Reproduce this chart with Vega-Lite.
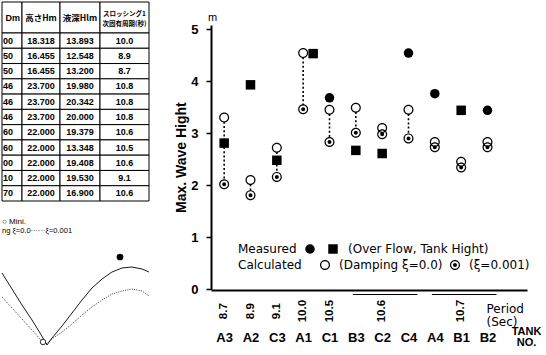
{
"$schema": "https://vega.github.io/schema/vega-lite/v6.json",
"background": "white",
"padding": 0,
"spacing": 23,
"config": {"view": {"stroke": null}, "axis": {"labelColor": "black", "titleColor": "black", "domainColor": "black", "tickColor": "black"}, "legend": {"labelColor": "black", "titleColor": "black"}},
"datasets": {
"table": [
{"part":"head","col":"c1","row":"h","text":"Dm"},
{"part":"head","col":"c2","row":"h","text":"高さHm"},
{"part":"head","col":"c3","row":"h","text":"液深Hlm"},
{"part":"head","col":"c4","row":"h","text":"スロッシング1\n次固有周期(秒)"},
{"part":"body","col":"c1","row":"r01","text":"00"},{"part":"body","col":"c2","row":"r01","text":"18.318"},{"part":"body","col":"c3","row":"r01","text":"13.893"},{"part":"body","col":"c4","row":"r01","text":"10.0"},
{"part":"body","col":"c1","row":"r02","text":"50"},{"part":"body","col":"c2","row":"r02","text":"16.455"},{"part":"body","col":"c3","row":"r02","text":"12.548"},{"part":"body","col":"c4","row":"r02","text":"8.9"},
{"part":"body","col":"c1","row":"r03","text":"50"},{"part":"body","col":"c2","row":"r03","text":"16.455"},{"part":"body","col":"c3","row":"r03","text":"13.200"},{"part":"body","col":"c4","row":"r03","text":"8.7"},
{"part":"body","col":"c1","row":"r04","text":"46"},{"part":"body","col":"c2","row":"r04","text":"23.700"},{"part":"body","col":"c3","row":"r04","text":"19.980"},{"part":"body","col":"c4","row":"r04","text":"10.8"},
{"part":"body","col":"c1","row":"r05","text":"46"},{"part":"body","col":"c2","row":"r05","text":"23.700"},{"part":"body","col":"c3","row":"r05","text":"20.342"},{"part":"body","col":"c4","row":"r05","text":"10.8"},
{"part":"body","col":"c1","row":"r06","text":"46"},{"part":"body","col":"c2","row":"r06","text":"23.700"},{"part":"body","col":"c3","row":"r06","text":"20.000"},{"part":"body","col":"c4","row":"r06","text":"10.8"},
{"part":"body","col":"c1","row":"r07","text":"60"},{"part":"body","col":"c2","row":"r07","text":"22.000"},{"part":"body","col":"c3","row":"r07","text":"19.379"},{"part":"body","col":"c4","row":"r07","text":"10.6"},
{"part":"body","col":"c1","row":"r08","text":"60"},{"part":"body","col":"c2","row":"r08","text":"22.000"},{"part":"body","col":"c3","row":"r08","text":"13.348"},{"part":"body","col":"c4","row":"r08","text":"10.5"},
{"part":"body","col":"c1","row":"r09","text":"00"},{"part":"body","col":"c2","row":"r09","text":"22.000"},{"part":"body","col":"c3","row":"r09","text":"19.408"},{"part":"body","col":"c4","row":"r09","text":"10.6"},
{"part":"body","col":"c1","row":"r10","text":"10"},{"part":"body","col":"c2","row":"r10","text":"22.000"},{"part":"body","col":"c3","row":"r10","text":"19.530"},{"part":"body","col":"c4","row":"r10","text":"9.1"},
{"part":"body","col":"c1","row":"r11","text":"70"},{"part":"body","col":"c2","row":"r11","text":"22.000"},{"part":"body","col":"c3","row":"r11","text":"16.900"},{"part":"body","col":"c4","row":"r11","text":"10.6"}
],
"curves": [
{"damping":"0.0","t":0,"a":7.2},{"damping":"0.0","t":1,"a":5.6},{"damping":"0.0","t":2,"a":4.0},{"damping":"0.0","t":3,"a":2.5},{"damping":"0.0","t":3.8,"a":1.2},{"damping":"0.0","t":4.5,"a":0.0},{"damping":"0.0","t":5,"a":0.7},{"damping":"0.0","t":6,"a":1.9},{"damping":"0.0","t":7,"a":3.2},{"damping":"0.0","t":8,"a":4.5},{"damping":"0.0","t":9,"a":5.7},{"damping":"0.0","t":10,"a":6.6},{"damping":"0.0","t":11,"a":7.3},{"damping":"0.0","t":12,"a":7.7},{"damping":"0.0","t":13,"a":7.8},{"damping":"0.0","t":14,"a":7.6},{"damping":"0.0","t":14.7,"a":7.3},
{"damping":"0.001","t":0,"a":4.8},{"damping":"0.001","t":1,"a":3.7},{"damping":"0.001","t":2,"a":2.6},{"damping":"0.001","t":3,"a":1.5},{"damping":"0.001","t":3.8,"a":0.6},{"damping":"0.001","t":4.4,"a":0.1},{"damping":"0.001","t":5,"a":0.6},{"damping":"0.001","t":6,"a":1.3},{"damping":"0.001","t":7,"a":2.1},{"damping":"0.001","t":8,"a":3.0},{"damping":"0.001","t":9,"a":3.8},{"damping":"0.001","t":10,"a":4.5},{"damping":"0.001","t":11,"a":5.1},{"damping":"0.001","t":12,"a":5.4},{"damping":"0.001","t":13,"a":5.6},{"damping":"0.001","t":14,"a":5.4},{"damping":"0.001","t":14.7,"a":4.9}
],
"curvemarks": [{"kind":"max","t":11.8,"a":8.8},{"kind":"min","t":4.1,"a":0.3}],
"notes": [{"line":1,"label":"○ Mini."},{"line":2,"label":"ng  ξ=0.0······ξ=0.001"}],
"tanks": [
{"tank":"A3","measured":2.81,"meas_type":"overflow","damping0":3.30,"damping001":2.02},
{"tank":"A2","measured":3.93,"meas_type":"overflow","damping0":2.10,"damping001":1.81},
{"tank":"C3","measured":2.48,"meas_type":"overflow","damping0":2.72,"damping001":2.16},
{"tank":"A1","measured":4.53,"meas_type":"overflow","damping0":4.54,"damping001":3.46},
{"tank":"C1","measured":3.68,"meas_type":"measured","damping0":3.45,"damping001":2.83},
{"tank":"B3","measured":2.67,"meas_type":"overflow","damping0":3.49,"damping001":3.01},
{"tank":"C2","measured":2.61,"meas_type":"overflow","damping0":3.10,"damping001":2.98},
{"tank":"C4","measured":4.54,"meas_type":"measured","damping0":3.45,"damping001":2.90},
{"tank":"A4","measured":3.76,"meas_type":"measured","damping0":2.83,"damping001":2.73},
{"tank":"B1","measured":3.44,"meas_type":"overflow","damping0":2.45,"damping001":2.34},
{"tank":"B2","measured":3.44,"meas_type":"measured","damping0":2.83,"damping001":2.73}
],
"periods": [
{"tank":"A3","period":"8.7"},{"tank":"A2","period":"8.9"},{"tank":"C3","period":"9.1"},{"tank":"A1","period":"10.0"},{"tank":"C1","period":"10.5"},
{"tank":"C2","period":"10.6","start":"B3","end":"C4"},{"tank":"B1","period":"10.7","start":"A4","end":"B2"}
]
},
"hconcat": [
{
"width": 147, "height": 355,
"data": {"name": "table"},
"resolve": {"scale": {"x": "independent", "y": "independent"}},
"layer": [
{"transform":[{"filter":"datum.part == 'head' && datum.col == 'c1'"}],
 "encoding":{"x":{"field":"col","type":"nominal","axis":null,"scale":{"type":"band","domain":["c1"],"range":[0,20],"paddingInner":0,"paddingOuter":0}},
  "y":{"field":"row","type":"nominal","axis":null,"scale":{"type":"band","domain":["h"],"range":[2,33],"paddingInner":0,"paddingOuter":0}}},
 "layer":[{"mark":{"type":"rect","fill":"white","stroke":"black","strokeWidth":1}},
  {"mark":{"type":"text","align":"right","dx":8,"baseline":"middle","font":"Liberation Sans","fontSize":9,"fontWeight":"bold","color":"black"},"encoding":{"text":{"field":"text"}}}]},
{"transform":[{"filter":"datum.part == 'head' && datum.col == 'c2'"}],
 "encoding":{"x":{"field":"col","type":"nominal","axis":null,"scale":{"type":"band","domain":["c2"],"range":[20,58],"paddingInner":0,"paddingOuter":0}},
  "y":{"field":"row","type":"nominal","axis":null,"scale":{"type":"band","domain":["h"],"range":[2,33],"paddingInner":0,"paddingOuter":0}}},
 "layer":[{"mark":{"type":"rect","fill":"white","stroke":"black","strokeWidth":1}},
  {"mark":{"type":"text","align":"center","baseline":"middle","font":"Noto Sans CJK JP","fontSize":8.5,"fontWeight":"bold","color":"black"},"encoding":{"text":{"field":"text"}}}]},
{"transform":[{"filter":"datum.part == 'head' && datum.col == 'c3'"}],
 "encoding":{"x":{"field":"col","type":"nominal","axis":null,"scale":{"type":"band","domain":["c3"],"range":[58,98],"paddingInner":0,"paddingOuter":0}},
  "y":{"field":"row","type":"nominal","axis":null,"scale":{"type":"band","domain":["h"],"range":[2,33],"paddingInner":0,"paddingOuter":0}}},
 "layer":[{"mark":{"type":"rect","fill":"white","stroke":"black","strokeWidth":1}},
  {"mark":{"type":"text","align":"center","baseline":"middle","font":"Noto Sans CJK JP","fontSize":8.5,"fontWeight":"bold","color":"black"},"encoding":{"text":{"field":"text"}}}]},
{"transform":[{"filter":"datum.part == 'head' && datum.col == 'c4'"}],
 "encoding":{"x":{"field":"col","type":"nominal","axis":null,"scale":{"type":"band","domain":["c4"],"range":[98,147],"paddingInner":0,"paddingOuter":0}},
  "y":{"field":"row","type":"nominal","axis":null,"scale":{"type":"band","domain":["h"],"range":[2,33],"paddingInner":0,"paddingOuter":0}}},
 "layer":[{"mark":{"type":"rect","fill":"white","stroke":"black","strokeWidth":1}},
  {"mark":{"type":"text","align":"center","baseline":"middle","lineBreak":"\n","lineHeight":10,"dy":-4,"font":"Noto Sans CJK JP","fontSize":6.5,"fontWeight":"bold","color":"black"},"encoding":{"text":{"field":"text"}}}]},
{"transform":[{"filter":"datum.part == 'body' && datum.col == 'c1'"}],
 "encoding":{"x":{"field":"col","type":"nominal","axis":null,"scale":{"type":"band","domain":["c1"],"range":[0,20],"paddingInner":0,"paddingOuter":0}},
  "y":{"field":"row","type":"nominal","axis":null,"scale":{"type":"band","range":[33,201],"paddingInner":0,"paddingOuter":0}}},
 "layer":[{"mark":{"type":"rect","fill":"white","stroke":"black","strokeWidth":1}},
  {"mark":{"type":"text","align":"right","dx":1,"baseline":"middle","font":"Liberation Sans","fontSize":9,"fontWeight":"bold","color":"black"},"encoding":{"text":{"field":"text"}}}]},
{"transform":[{"filter":"datum.part == 'body' && datum.col == 'c2'"}],
 "encoding":{"x":{"field":"col","type":"nominal","axis":null,"scale":{"type":"band","domain":["c2"],"range":[20,58],"paddingInner":0,"paddingOuter":0}},
  "y":{"field":"row","type":"nominal","axis":null,"scale":{"type":"band","range":[33,201],"paddingInner":0,"paddingOuter":0}}},
 "layer":[{"mark":{"type":"rect","fill":"white","stroke":"black","strokeWidth":1}},
  {"mark":{"type":"text","align":"center","baseline":"middle","font":"Liberation Sans","fontSize":9,"fontWeight":"bold","color":"black"},"encoding":{"text":{"field":"text"}}}]},
{"transform":[{"filter":"datum.part == 'body' && datum.col == 'c3'"}],
 "encoding":{"x":{"field":"col","type":"nominal","axis":null,"scale":{"type":"band","domain":["c3"],"range":[58,98],"paddingInner":0,"paddingOuter":0}},
  "y":{"field":"row","type":"nominal","axis":null,"scale":{"type":"band","range":[33,201],"paddingInner":0,"paddingOuter":0}}},
 "layer":[{"mark":{"type":"rect","fill":"white","stroke":"black","strokeWidth":1}},
  {"mark":{"type":"text","align":"center","baseline":"middle","font":"Liberation Sans","fontSize":9,"fontWeight":"bold","color":"black"},"encoding":{"text":{"field":"text"}}}]},
{"transform":[{"filter":"datum.part == 'body' && datum.col == 'c4'"}],
 "encoding":{"x":{"field":"col","type":"nominal","axis":null,"scale":{"type":"band","domain":["c4"],"range":[98,147],"paddingInner":0,"paddingOuter":0}},
  "y":{"field":"row","type":"nominal","axis":null,"scale":{"type":"band","range":[33,201],"paddingInner":0,"paddingOuter":0}}},
 "layer":[{"mark":{"type":"rect","fill":"white","stroke":"black","strokeWidth":1}},
  {"mark":{"type":"text","align":"center","baseline":"middle","font":"Liberation Sans","fontSize":9,"fontWeight":"bold","color":"black"},"encoding":{"text":{"field":"text"}}}]},
{"data":{"name":"curves"},
 "layer":[
  {"transform":[{"filter":"datum.damping == '0.0'"}],"mark":{"type":"line","color":"black","strokeWidth":0.9},
   "encoding":{"x":{"field":"t","type":"quantitative","axis":null,"scale":{"domain":[0,14.7],"range":[0,147],"nice":false,"zero":false}},"y":{"field":"a","type":"quantitative","axis":null,"scale":{"domain":[0,10],"range":[345,245],"nice":false,"zero":false}},"order":{"field":"t"}}},
  {"transform":[{"filter":"datum.damping == '0.001'"}],"mark":{"type":"line","color":"black","strokeWidth":0.8,"strokeDash":[1,1.3]},
   "encoding":{"x":{"field":"t","type":"quantitative","axis":null,"scale":{"domain":[0,14.7],"range":[0,147],"nice":false,"zero":false}},"y":{"field":"a","type":"quantitative","axis":null,"scale":{"domain":[0,10],"range":[345,245],"nice":false,"zero":false}},"order":{"field":"t"}}},
  {"data":{"name":"curvemarks"},"transform":[{"filter":"datum.kind == 'max'"}],"mark":{"type":"point","shape":"circle","filled":true,"color":"black","size":45,"opacity":1},
   "encoding":{"x":{"field":"t","type":"quantitative","axis":null,"scale":{"domain":[0,14.7],"range":[0,147],"nice":false,"zero":false}},"y":{"field":"a","type":"quantitative","axis":null,"scale":{"domain":[0,10],"range":[345,245],"nice":false,"zero":false}}}},
  {"data":{"name":"curvemarks"},"transform":[{"filter":"datum.kind == 'min'"}],"mark":{"type":"point","shape":"circle","filled":false,"fill":"white","stroke":"black","strokeWidth":0.8,"size":30,"opacity":1},
   "encoding":{"x":{"field":"t","type":"quantitative","axis":null,"scale":{"domain":[0,14.7],"range":[0,147],"nice":false,"zero":false}},"y":{"field":"a","type":"quantitative","axis":null,"scale":{"domain":[0,10],"range":[345,245],"nice":false,"zero":false}}}},
  {"data":{"name":"notes"},"transform":[{"filter":"datum.line == 1"}],"mark":{"type":"text","align":"left","baseline":"middle","font":"Liberation Sans","fontSize":8,"color":"black"},
   "encoding":{"x":{"datum":0,"type":"quantitative","axis":null,"scale":{"domain":[0,14.7],"range":[0,147],"nice":false,"zero":false}},"y":{"datum":12.3,"type":"quantitative","axis":null,"scale":{"domain":[0,10],"range":[345,245],"nice":false,"zero":false}},"text":{"field":"label"}}},
  {"data":{"name":"notes"},"transform":[{"filter":"datum.line == 2"}],"mark":{"type":"text","align":"left","baseline":"middle","font":"Liberation Sans","fontSize":7.5,"color":"black"},
   "encoding":{"x":{"datum":0,"type":"quantitative","axis":null,"scale":{"domain":[0,14.7],"range":[0,147],"nice":false,"zero":false}},"y":{"datum":11.4,"type":"quantitative","axis":null,"scale":{"domain":[0,10],"range":[345,245],"nice":false,"zero":false}},"text":{"field":"label"}}}
 ]}
]
},
{
"width": 316, "height": 290,
"data": {"name": "tanks"},
"resolve": {"scale": {"shape": "independent"}, "axis": {"x": "independent", "y": "independent"}, "legend": {"shape": "independent"}},
"layer": [
{"mark":{"type":"rule","color":"black","strokeWidth":1.6,"strokeDash":[2,2.2]},
 "encoding":{
  "x":{"field":"tank","type":"nominal","scale":{"type":"point","domain":["A3","A2","C3","A1","C1","B3","C2","C4","A4","B1","B2"],"padding":1.0375,"align":0.25},
   "axis":{"orient":"bottom","title":["TANK","NO."],"titleX":315,"titleY":35,"titleAlign":"center","titleBaseline":"top","titleFont":"Liberation Sans","titleFontSize":11,"titleFontWeight":"bold","titleLineHeight":11,"labelAngle":0,"labelFont":"Liberation Sans","labelFontSize":13,"labelFontWeight":"bold","labelPadding":47,"labelBaseline":"middle","ticks":false,"tickSize":0,"domain":true,"domainWidth":2,"grid":false,"labelOverlap":false}},
  "y":{"field":"damping0","type":"quantitative","scale":{"domain":[0,5.08],"range":[289.3,25],"nice":false,"zero":false},
   "axis":{"orient":"left","title":"Max. Wave Hight","values":[0,1,2,3,4,5],"format":"d","labelFont":"Liberation Sans","labelFontSize":13,"labelFontWeight":"bold","labelPadding":8,"tickSize":5,"tickWidth":1.5,"domainWidth":2,"grid":false,"titleFont":"Liberation Sans","titleFontSize":14,"titleFontWeight":"bold","titlePadding":2}},
  "y2":{"field":"damping001"}}},
{"transform":[{"filter":"datum.tank != 'A1'"}],
 "mark":{"type":"point","filled":true,"color":"black","size":90,"opacity":1},
 "encoding":{
  "x":{"field":"tank","type":"nominal","scale":{"type":"point","domain":["A3","A2","C3","A1","C1","B3","C2","C4","A4","B1","B2"],"padding":1.0375,"align":0.25},"axis":null},
  "y":{"field":"measured","type":"quantitative","scale":{"domain":[0,5.08],"range":[289.3,25],"nice":false,"zero":false},"axis":null},
  "shape":{"field":"meas_type","type":"nominal","scale":{"domain":["measured","overflow"],"range":["circle","square"]},
   "legend":{"title":"Measured","orient":"none","legendX":27,"legendY":243,"direction":"horizontal","titleOrient":"left","titleFont":"DejaVu Sans","titleFontSize":12,"titleFontWeight":"normal","titlePadding":7,"labelFont":"DejaVu Sans","labelFontSize":12,"labelOffset":9,"columnPadding":2,"symbolSize":90,"symbolFillColor":"black","symbolStrokeColor":"black","symbolStrokeWidth":0,"padding":0,"labelExpr":"datum.value == 'measured' ? '' : '(Over Flow, Tank Hight)'"}}}},
{"transform":[{"fold":["damping0","damping001"],"as":["case","height"]}],
 "mark":{"type":"point","shape":"circle","filled":true,"color":"white","size":64,"opacity":1},
 "encoding":{
  "x":{"field":"tank","type":"nominal","scale":{"type":"point","domain":["A3","A2","C3","A1","C1","B3","C2","C4","A4","B1","B2"],"padding":1.0375,"align":0.25},"axis":null},
  "y":{"field":"height","type":"quantitative","scale":{"domain":[0,5.08],"range":[289.3,25],"nice":false,"zero":false},"axis":null}}},
{"transform":[{"fold":["damping0","damping001"],"as":["case","height"]}],
 "mark":{"type":"point","filled":true,"color":"black","size":100,"opacity":1,"strokeWidth":0},
 "encoding":{
  "x":{"field":"tank","type":"nominal","scale":{"type":"point","domain":["A3","A2","C3","A1","C1","B3","C2","C4","A4","B1","B2"],"padding":1.0375,"align":0.25},"axis":null},
  "y":{"field":"height","type":"quantitative","scale":{"domain":[0,5.08],"range":[289.3,25],"nice":false,"zero":false},"axis":null},
  "shape":{"field":"case","type":"nominal","scale":{"domain":["damping0","damping001"],"range":["M1,0A1,1,0,1,1,-1,0A1,1,0,1,1,1,0ZM0.76,0A0.76,0.76,0,1,0,-0.76,0A0.76,0.76,0,1,0,0.76,0Z","M1,0A1,1,0,1,1,-1,0A1,1,0,1,1,1,0ZM0.76,0A0.76,0.76,0,1,0,-0.76,0A0.76,0.76,0,1,0,0.76,0ZM0.4,0A0.4,0.4,0,1,1,-0.4,0A0.4,0.4,0,1,1,0.4,0Z"]},
   "legend":{"title":"Calculated","orient":"none","legendX":27,"legendY":259,"direction":"horizontal","titleOrient":"left","titleFont":"DejaVu Sans","titleFontSize":12,"titleFontWeight":"normal","titlePadding":17,"labelFont":"DejaVu Sans","labelFontSize":12,"labelOffset":8,"columnPadding":6,"symbolSize":100,"symbolFillColor":"black","symbolStrokeWidth":0,"padding":0,"labelExpr":"datum.value == 'damping0' ? '(Damping ξ=0.0)' : '(ξ=0.001)'"}}}},
{"transform":[{"filter":"datum.tank == 'A1'"}],
 "mark":{"type":"point","filled":true,"color":"black","size":90,"opacity":1,"xOffset":10},
 "encoding":{
  "x":{"field":"tank","type":"nominal","scale":{"type":"point","domain":["A3","A2","C3","A1","C1","B3","C2","C4","A4","B1","B2"],"padding":1.0375,"align":0.25},"axis":null},
  "y":{"field":"measured","type":"quantitative","scale":{"domain":[0,5.08],"range":[289.3,25],"nice":false,"zero":false},"axis":null},
  "shape":{"field":"meas_type","type":"nominal","scale":{"domain":["measured","overflow"],"range":["circle","square"]},"legend":null}}},
{"data":{"name":"periods"},
 "mark":{"type":"text","angle":270,"align":"center","baseline":"middle","font":"Liberation Sans","fontSize":11.5,"fontWeight":"bold","color":"black"},
 "encoding":{
  "x":{"field":"tank","type":"nominal","scale":{"type":"point","domain":["A3","A2","C3","A1","C1","B3","C2","C4","A4","B1","B2"],"padding":1.0375,"align":0.25},
   "axis":{"orient":"bottom","labels":false,"ticks":false,"domain":false,"grid":false,"title":["Period","(Sec)"],"titleX":275,"titleY":13,"titleAlign":"left","titleBaseline":"top","titleFont":"DejaVu Sans","titleFontSize":12,"titleFontWeight":"normal","titleLineHeight":13}},
  "y":{"datum":-0.42,"type":"quantitative","scale":{"domain":[0,5.08],"range":[289.3,25],"nice":false,"zero":false},
   "axis":{"orient":"left","labels":false,"ticks":false,"domain":false,"grid":false,"title":"m","titleAngle":0,"titleX":1,"titleY":17,"titleAlign":"center","titleBaseline":"middle","titleFont":"Liberation Sans","titleFontSize":11,"titleFontWeight":"normal"}},
  "text":{"field":"period"}}},
{"data":{"name":"periods"},"transform":[{"filter":"isValid(datum.start)"}],
 "mark":{"type":"rule","color":"black","strokeWidth":1,"xOffset":-3,"x2Offset":9},
 "encoding":{
  "x":{"field":"start","type":"nominal","scale":{"type":"point","domain":["A3","A2","C3","A1","C1","B3","C2","C4","A4","B1","B2"],"padding":1.0375,"align":0.25},"axis":null},
  "x2":{"field":"end"},
  "y":{"datum":-0.1,"type":"quantitative","scale":{"domain":[0,5.08],"range":[289.3,25],"nice":false,"zero":false},"axis":null}}}
]
}
]
}
